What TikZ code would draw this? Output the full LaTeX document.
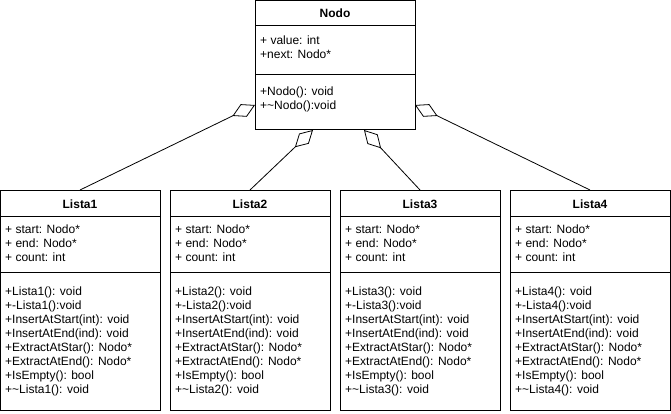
\documentclass[tikz,border=0pt]{standalone}
\usepackage{fontspec}
\setmainfont{Liberation Sans}
\usetikzlibrary{arrows.meta}
\tikzset{
  classbox/.style={draw,line width=1pt,minimum width=160pt,inner sep=0pt,outer sep=0pt},
  member/.style={anchor=west,inner sep=0pt,font=\fontsize{12}{14}\selectfont},
  classname/.style={inner sep=0pt,font=\fontsize{12}{14}\selectfont\bfseries},
  aggr/.style={line width=0.8pt,-{Diamond[open,length=25pt,width=14pt,line width=0.8pt]}}
}
\begin{document}
\begin{tikzpicture}[x=1pt,y=-1pt]
  \useasboundingbox (0,0) rectangle (671,414);
  % Nodo
  \node[classbox,minimum height=129.5pt] (nodo) at (335,65.25) {};
  \node[classname] (nodoname) at (335,13){Nodo};
  \draw[line width=1pt] (255,26) -- (415,26);
  \node[member] (nodovalue) at (260,40){+ value: int};
  \node[member] (nodonext) at (260,54){+next: Nodo*};
  \draw[line width=1pt] (255,75) -- (415,75);
  \node[member] (nodoctor) at (260,92){+Nodo(): void};
  \node[member] (nododtor) at (260,106){+\textasciitilde Nodo():void};
  \coordinate (nodoL) at (255,105);
  \coordinate (nodoB1) at (313,130);
  \coordinate (nodoB2) at (364,130);
  \coordinate (nodoR) at (415,105);
  % Lista1
  \node[classbox,minimum height=220pt] (lista1) at (80,300) {};
  \node[classname] (l1name) at (80,204){Lista1};
  \draw[line width=1pt] (0,216) -- (160,216);
  \node[member] (l1start) at (5,229){+ start: Nodo*};
  \node[member] (l1end) at (5,243){+ end: Nodo*};
  \node[member] (l1count) at (5,257){+ count: int};
  \draw[line width=1pt] (0,272) -- (160,272);
  \node[member] (l1m1) at (5,292){+Lista1(): void};
  \node[member] (l1m2) at (5,306){+-Lista1():void};
  \node[member] (l1m3) at (5,320){+InsertAtStart(int): void};
  \node[member] (l1m4) at (5,334){+InsertAtEnd(ind): void};
  \node[member] (l1m5) at (5,348){+ExtractAtStar(): Nodo*};
  \node[member] (l1m6) at (5,362){+ExtractAtEnd(): Nodo*};
  \node[member] (l1m7) at (5,376){+IsEmpty(): bool};
  \node[member] (l1m8) at (5,390){+\textasciitilde Lista1(): void};
  % Lista2
  \node[classbox,minimum height=220pt] (lista2) at (250,300) {};
  \node[classname] (l2name) at (250,204){Lista2};
  \draw[line width=1pt] (170,216) -- (330,216);
  \node[member] (l2start) at (175,229){+ start: Nodo*};
  \node[member] (l2end) at (175,243){+ end: Nodo*};
  \node[member] (l2count) at (175,257){+ count: int};
  \draw[line width=1pt] (170,272) -- (330,272);
  \node[member] (l2m1) at (175,292){+Lista2(): void};
  \node[member] (l2m2) at (175,306){+-Lista2():void};
  \node[member] (l2m3) at (175,320){+InsertAtStart(int): void};
  \node[member] (l2m4) at (175,334){+InsertAtEnd(ind): void};
  \node[member] (l2m5) at (175,348){+ExtractAtStar(): Nodo*};
  \node[member] (l2m6) at (175,362){+ExtractAtEnd(): Nodo*};
  \node[member] (l2m7) at (175,376){+IsEmpty(): bool};
  \node[member] (l2m8) at (175,390){+\textasciitilde Lista2(): void};
  % Lista3
  \node[classbox,minimum height=220pt] (lista3) at (420,300) {};
  \node[classname] (l3name) at (420,204){Lista3};
  \draw[line width=1pt] (340,216) -- (500,216);
  \node[member] (l3start) at (345,229){+ start: Nodo*};
  \node[member] (l3end) at (345,243){+ end: Nodo*};
  \node[member] (l3count) at (345,257){+ count: int};
  \draw[line width=1pt] (340,272) -- (500,272);
  \node[member] (l3m1) at (345,292){+Lista3(): void};
  \node[member] (l3m2) at (345,306){+-Lista3():void};
  \node[member] (l3m3) at (345,320){+InsertAtStart(int): void};
  \node[member] (l3m4) at (345,334){+InsertAtEnd(ind): void};
  \node[member] (l3m5) at (345,348){+ExtractAtStar(): Nodo*};
  \node[member] (l3m6) at (345,362){+ExtractAtEnd(): Nodo*};
  \node[member] (l3m7) at (345,376){+IsEmpty(): bool};
  \node[member] (l3m8) at (345,390){+\textasciitilde Lista3(): void};
  % Lista4
  \node[classbox,minimum height=220pt] (lista4) at (590,300) {};
  \node[classname] (l4name) at (590,204){Lista4};
  \draw[line width=1pt] (510,216) -- (670,216);
  \node[member] (l4start) at (515,229){+ start: Nodo*};
  \node[member] (l4end) at (515,243){+ end: Nodo*};
  \node[member] (l4count) at (515,257){+ count: int};
  \draw[line width=1pt] (510,272) -- (670,272);
  \node[member] (l4m1) at (515,292){+Lista4(): void};
  \node[member] (l4m2) at (515,306){+-Lista4():void};
  \node[member] (l4m3) at (515,320){+InsertAtStart(int): void};
  \node[member] (l4m4) at (515,334){+InsertAtEnd(ind): void};
  \node[member] (l4m5) at (515,348){+ExtractAtStar(): Nodo*};
  \node[member] (l4m6) at (515,362){+ExtractAtEnd(): Nodo*};
  \node[member] (l4m7) at (515,376){+IsEmpty(): bool};
  \node[member] (l4m8) at (515,390){+\textasciitilde Lista4(): void};
  % aggregations
  \draw[aggr] (lista1.north) -- (nodoL);
  \draw[aggr] (lista2.north) -- (nodoB1);
  \draw[aggr] (lista3.north) -- (nodoB2);
  \draw[aggr] (lista4.north) -- (nodoR);
\end{tikzpicture}
\end{document}
